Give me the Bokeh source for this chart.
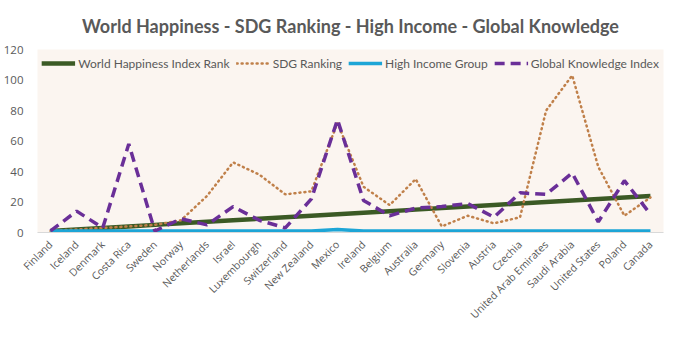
import math
from bokeh.plotting import figure
from bokeh.models import Range1d, FactorRange, Legend, LegendItem
from bokeh.embed import file_html
from bokeh.resources import INLINE

countries = ["Finland", "Iceland", "Denmark", "Costa Rica", "Sweden", "Norway",
             "Netherlands", "Israel", "Luxembourgh", "Switzerland", "New Zealand",
             "Mexico", "Ireland", "Belgium", "Australia", "Germany", "Slovenia",
             "Austria", "Czechia", "United Arab Emirates", "Saudi Arabia",
             "United States", "Poland", "Canada"]
happiness_rank = [1, 2, 3, 4, 5, 6, 7, 8, 9, 10, 11, 12, 13, 14, 15, 16, 17, 18,
                  19, 20, 21, 22, 23, 24]
sdg_ranking = [1, 2, 3, 4, 5, 8, 24, 46, 38, 25, 27, 72, 30, 18, 35, 4, 11, 6,
               10, 80, 103, 43, 11, 23]
high_income = [1, 1, 1, 1, 1, 1, 1, 1, 1, 1, 1, 2, 1, 1, 1, 1, 1, 1, 1, 1, 1,
               1, 1, 1]
knowledge_index = [1, 14, 3, 58, 1, 9, 5, 17, 8, 3, 22, 74, 21, 11, 16, 17, 19,
                   10, 26, 25, 39, 7, 34, 12]
y_ticks = [0, 20, 40, 60, 80, 100, 120]

TXT = "#595959"

p = figure(width=676, height=341, x_range=FactorRange(*countries),
           y_range=Range1d(0, 120), output_backend="svg", toolbar_location=None,
           min_border_left=37, min_border_right=13, min_border_bottom=109,
           min_border_top=0)
p.background_fill_color = "#FBF5F0"
p.border_fill_color = "white"
p.outline_line_color = None
p.x_range.range_padding = 0

p.title.text = "World Happiness - SDG Ranking - High Income - Global Knowledge"
p.title.align = "center"
p.title.text_font = "Lato"
p.title.text_font_size = "18px"
p.title.text_font_style = "bold"
p.title.text_color = TXT
p.title.standoff = 25
p.title.offset = 0

p.xgrid.grid_line_color = None
p.ygrid.grid_line_color = None

p.yaxis.ticker = y_ticks
p.yaxis.axis_line_color = None
p.yaxis.major_tick_line_color = None
p.yaxis.minor_tick_line_color = None
p.yaxis.major_label_text_font = "Open Sans"
p.yaxis.major_label_text_font_size = "11.5px"
p.yaxis.major_label_text_color = TXT
p.yaxis.major_label_standoff = 8

p.xaxis.axis_line_color = "#D9D9D9"
p.xaxis.axis_line_width = 1
p.xaxis.major_tick_line_color = None
p.xaxis.minor_tick_line_color = None
p.xaxis.major_label_orientation = math.pi / 4
p.xaxis.major_label_text_font = "Open Sans"
p.xaxis.major_label_text_font_size = "10.5px"
p.xaxis.major_label_text_color = TXT
p.xaxis.major_label_standoff = 4

r1 = p.line(countries, happiness_rank, line_color="#3B5A25", line_width=4.5)
r2 = p.line(countries, sdg_ranking, line_color="#C0804A", line_width=2.5,
            line_dash="1 4", line_cap="round")
r3 = p.line(countries, high_income, line_color="#1DA5D6", line_width=3.5)
r4 = p.line(countries, knowledge_index, line_color="#6A2F98", line_width=3.5,
            line_dash="10 6")

legend = Legend(items=[
    LegendItem(label="World Happiness Index Rank", renderers=[r1]),
    LegendItem(label="SDG Ranking", renderers=[r2]),
    LegendItem(label="High Income Group", renderers=[r3]),
    LegendItem(label="Global Knowledge Index", renderers=[r4]),
], orientation="horizontal", location="top_center")
legend.background_fill_alpha = 0
legend.border_line_color = None
legend.label_text_font = "Lato"
legend.label_text_font_size = "12px"
legend.label_text_color = TXT
legend.glyph_width = 34
legend.label_standoff = 3
legend.spacing = 6
legend.padding = 2
legend.margin = 4
p.add_layout(legend)

open("out.html", "w").write(file_html(p, INLINE))
